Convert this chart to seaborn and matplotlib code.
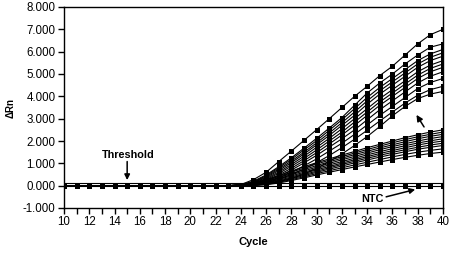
import matplotlib
matplotlib.use("Agg")
import matplotlib.pyplot as plt
import seaborn as sns
import numpy as np
import pandas as pd

cycles = list(range(10, 41))
# flat baseline, cycles 10-21
baseline = [0.0, 0.0, 0.0, 0.0, 0.0, 0.0, 0.0, 0.0, 0.0, 0.0, 0.0, 0.0]

# values for cycles 22-40
high_1 = [0.0, 0.0, 0.05, 0.27, 0.6, 1.08, 1.55, 2.03, 2.51, 3.0, 3.5, 4.0, 4.45, 4.93, 5.35, 5.85, 6.35, 6.76, 7.0]
high_2 = [0.0, 0.0, 0.04, 0.2, 0.48, 0.85, 1.25, 1.68, 2.12, 2.58, 3.05, 3.6, 4.15, 4.6, 5.0, 5.45, 5.85, 6.2, 6.35]
high_3 = [0.0, 0.0, 0.03, 0.18, 0.44, 0.8, 1.18, 1.6, 2.02, 2.48, 2.95, 3.45, 3.95, 4.4, 4.8, 5.2, 5.6, 5.9, 6.1]
high_4 = [0.0, 0.0, 0.03, 0.16, 0.4, 0.74, 1.1, 1.5, 1.92, 2.36, 2.82, 3.3, 3.8, 4.25, 4.65, 5.05, 5.45, 5.75, 5.95]
high_5 = [0.0, 0.0, 0.02, 0.14, 0.36, 0.68, 1.03, 1.42, 1.83, 2.25, 2.7, 3.15, 3.65, 4.1, 4.5, 4.9, 5.3, 5.6, 5.8]
high_6 = [0.0, 0.0, 0.02, 0.12, 0.32, 0.61, 0.95, 1.32, 1.72, 2.12, 2.55, 3.0, 3.45, 3.9, 4.3, 4.7, 5.1, 5.4, 5.6]
high_7 = [0.0, 0.0, 0.02, 0.1, 0.28, 0.55, 0.87, 1.22, 1.6, 2.0, 2.4, 2.85, 3.3, 3.75, 4.15, 4.55, 4.95, 5.25, 5.45]
high_8 = [0.0, 0.0, 0.01, 0.08, 0.24, 0.48, 0.78, 1.12, 1.48, 1.87, 2.27, 2.7, 3.15, 3.6, 4.0, 4.4, 4.8, 5.1, 5.3]
high_9 = [0.0, 0.0, 0.01, 0.07, 0.2, 0.42, 0.7, 1.02, 1.36, 1.73, 2.1, 2.5, 2.95, 3.4, 3.8, 4.2, 4.6, 4.9, 5.1]
high_10 = [0.0, 0.0, 0.01, 0.05, 0.16, 0.35, 0.6, 0.89, 1.2, 1.55, 1.9, 2.3, 2.72, 3.15, 3.55, 3.95, 4.35, 4.62, 4.8]
high_11 = [0.0, 0.0, 0.0, 0.04, 0.13, 0.28, 0.5, 0.75, 1.03, 1.35, 1.7, 2.08, 2.48, 2.9, 3.3, 3.7, 4.05, 4.3, 4.45]
high_12 = [0.0, 0.0, 0.0, 0.02, 0.08, 0.18, 0.32, 0.52, 0.78, 1.08, 1.42, 1.8, 2.2, 2.65, 3.13, 3.55, 3.9, 4.1, 4.22]

low_1 = [0.0, 0.0, 0.03, 0.12, 0.27, 0.45, 0.65, 0.85, 1.03, 1.2, 1.37, 1.53, 1.7, 1.85, 2.0, 2.15, 2.28, 2.4, 2.5]
low_2 = [0.0, 0.0, 0.02, 0.1, 0.24, 0.41, 0.6, 0.79, 0.97, 1.14, 1.3, 1.46, 1.62, 1.77, 1.92, 2.06, 2.19, 2.3, 2.4]
low_3 = [0.0, 0.0, 0.02, 0.08, 0.2, 0.36, 0.54, 0.72, 0.9, 1.07, 1.23, 1.39, 1.54, 1.69, 1.83, 1.97, 2.1, 2.21, 2.3]
low_4 = [0.0, 0.0, 0.01, 0.07, 0.18, 0.32, 0.49, 0.66, 0.83, 1.0, 1.16, 1.31, 1.46, 1.61, 1.75, 1.88, 2.0, 2.11, 2.2]
low_5 = [0.0, 0.0, 0.01, 0.05, 0.15, 0.28, 0.44, 0.6, 0.77, 0.93, 1.08, 1.23, 1.38, 1.52, 1.66, 1.79, 1.91, 2.01, 2.1]
low_6 = [0.0, 0.0, 0.0, 0.04, 0.12, 0.24, 0.39, 0.55, 0.71, 0.86, 1.01, 1.16, 1.3, 1.44, 1.57, 1.7, 1.82, 1.92, 2.0]
low_7 = [0.0, 0.0, 0.0, 0.03, 0.1, 0.21, 0.35, 0.5, 0.65, 0.8, 0.95, 1.09, 1.23, 1.36, 1.49, 1.61, 1.72, 1.82, 1.9]
low_8 = [0.0, 0.0, 0.0, 0.02, 0.08, 0.18, 0.31, 0.45, 0.6, 0.74, 0.88, 1.02, 1.15, 1.28, 1.4, 1.52, 1.63, 1.72, 1.8]
low_9 = [0.0, 0.0, 0.0, 0.01, 0.06, 0.15, 0.27, 0.4, 0.54, 0.67, 0.8, 0.93, 1.05, 1.17, 1.29, 1.4, 1.5, 1.58, 1.65]
low_10 = [0.0, 0.0, 0.0, 0.01, 0.04, 0.12, 0.23, 0.35, 0.48, 0.6, 0.72, 0.84, 0.95, 1.06, 1.17, 1.27, 1.36, 1.44, 1.5]

ntc = [-0.03, -0.03, -0.03, -0.03, -0.03, -0.03, -0.03, -0.03, -0.03, -0.03, -0.03,
       -0.03, -0.03, -0.03, -0.03, -0.03, -0.03, -0.03, -0.03, -0.03, -0.03,
       -0.03, -0.03, -0.03, -0.03, -0.03, -0.03, -0.03, -0.03, -0.03, -0.03]
threshold = 0.12

y_ticks = [-1, 0, 1, 2, 3, 4, 5, 6, 7, 8]
x_ticks = list(range(10, 41, 2))

series = {
    "high_1": high_1, "high_2": high_2, "high_3": high_3, "high_4": high_4,
    "high_5": high_5, "high_6": high_6, "high_7": high_7, "high_8": high_8,
    "high_9": high_9, "high_10": high_10, "high_11": high_11, "high_12": high_12,
    "low_1": low_1, "low_2": low_2, "low_3": low_3, "low_4": low_4, "low_5": low_5,
    "low_6": low_6, "low_7": low_7, "low_8": low_8, "low_9": low_9, "low_10": low_10,
}

rows = []
for name, vals in series.items():
    full = baseline + vals
    for c, v in zip(cycles, full):
        rows.append({"Cycle": c, "dRn": v, "well": name})
for c, v in zip(cycles, ntc):
    rows.append({"Cycle": c, "dRn": v, "well": "NTC"})
df = pd.DataFrame(rows)

sns.set_theme(style="white")
plt.rcParams["font.family"] = ["Liberation Sans", "DejaVu Sans"]
plt.rcParams["text.color"] = "black"
plt.rcParams["axes.labelcolor"] = "black"
plt.rcParams["xtick.color"] = "black"
plt.rcParams["ytick.color"] = "black"

fig = plt.figure(figsize=(4.52, 2.58), dpi=100)
ax = fig.add_axes([64 / 452, 1 - 208 / 258, (443 - 64) / 452, (208 - 7) / 258])

wells = list(series.keys()) + ["NTC"]
sns.lineplot(data=df, x="Cycle", y="dRn", hue="well", hue_order=wells,
             palette=["black"] * len(wells), marker="s", markersize=3.6,
             markeredgewidth=0, linewidth=0.8, legend=False, ax=ax)

ax.axhline(threshold, color="black", linewidth=0.8)

ax.set_xlim(10, 40)
ax.set_ylim(-1, 8)
ax.set_xticks(x_ticks)
ax.set_xticks(cycles, minor=True)
ax.set_yticks(y_ticks)
ax.set_yticklabels([f"{t:.3f}" for t in y_ticks])
ax.tick_params(axis="both", which="both", direction="out", length=4, width=1,
               color="black", labelcolor="black", labelsize=8.3, pad=2,
               bottom=True, left=True)
for s in ax.spines.values():
    s.set_color("black")
    s.set_linewidth(1.0)

ax.set_xlabel("Cycle", fontsize=8, fontweight="bold", labelpad=6)
ax.set_ylabel("ΔRn", fontsize=7, fontweight="bold", labelpad=5)

# Threshold label and arrow
ax.text(15.1, 1.38, "Threshold", ha="center", va="center",
        fontsize=7.8, fontweight="bold")
ax.annotate("", xy=(15.0, 0.25), xytext=(15.0, 1.08),
            arrowprops=dict(arrowstyle="-|>", color="black", lw=1.1,
                            mutation_scale=8, shrinkA=0, shrinkB=0))
# NTC label and arrow
ax.text(34.4, -0.58, "NTC", ha="center", va="center",
        fontsize=7.8, fontweight="bold")
ax.annotate("", xy=(37.8, -0.17), xytext=(35.5, -0.5),
            arrowprops=dict(arrowstyle="-|>", color="black", lw=1.1,
                            mutation_scale=8, shrinkA=0, shrinkB=0))
# arrow pointing to the amplified curves
ax.annotate("", xy=(37.9, 3.17), xytext=(38.5, 2.63),
            arrowprops=dict(arrowstyle="-|>", color="black", lw=1.1,
                            mutation_scale=9, shrinkA=0, shrinkB=0))

fig.savefig("out.png", dpi=100)
